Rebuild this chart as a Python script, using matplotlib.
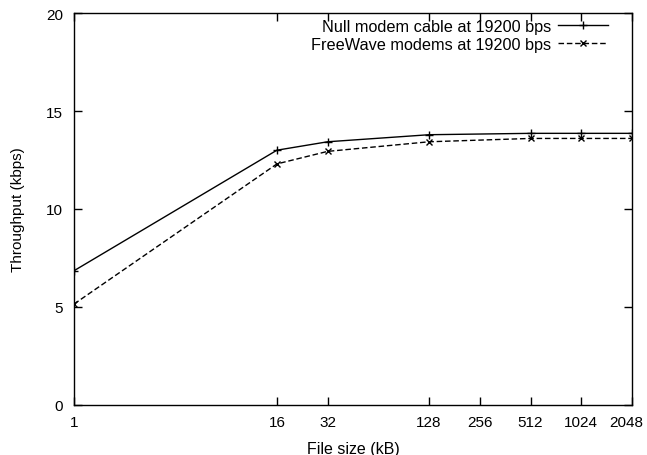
import matplotlib.pyplot as plt
import matplotlib.transforms as mtransforms
from matplotlib.ticker import FixedLocator, NullLocator

plt.rcParams['font.family'] = ['Liberation Sans', 'DejaVu Sans']

# File sizes (kB) and throughput (kbps)
file_size = [1, 16, 32, 128, 512, 1024, 2048]
null_modem = [6.85, 13.0, 13.43, 13.79, 13.86, 13.86, 13.86]
freewave = [5.15, 12.3, 12.94, 13.43, 13.6, 13.6, 13.6]
x_ticks = [1, 16, 32, 128, 256, 512, 1024, 2048]
y_ticks = [0, 5, 10, 15, 20]

fig = plt.figure(figsize=(6.47, 4.56), dpi=100)
ax = fig.add_axes([74/647, 1 - 406/456, (632-74)/647, (406-14)/456])

ax.plot(file_size, null_modem, color='black', lw=1, marker='+', ms=6, mew=1,
        label='Null modem cable at 19200 bps')
ax.plot(file_size, freewave, color='black', lw=1, ls=(0, (4, 2)), marker='x', ms=5, mew=1,
        label='FreeWave modems at 19200 bps')

ax.set_xscale('log', base=2)
ax.set_xlim(1, 2048)
ax.set_ylim(0, 20)
ax.xaxis.set_major_locator(FixedLocator(x_ticks))
ax.xaxis.set_minor_locator(NullLocator())
ax.set_xticklabels([str(t) for t in x_ticks])
ax.set_yticks(y_ticks)

ax.tick_params(direction='in', length=6, width=1, top=True, right=True, labelsize=11)
ax.tick_params(axis='x', pad=7.5)
ax.tick_params(axis='y', pad=8)
for s in ax.spines.values():
    s.set_linewidth(1)

# nudge the last x label so it stays inside the figure
last = ax.get_xticklabels()[-1]
last.set_transform(last.get_transform() + mtransforms.ScaledTranslation(-6/100, 0, fig.dpi_scale_trans))

ax.set_xlabel('File size (kB)', fontsize=11.5, labelpad=8)
ax.set_ylabel('Throughput (kbps)', fontsize=11, labelpad=15)

ax.legend(loc='upper right', bbox_to_anchor=(0.957, 0.985), markerfirst=False, frameon=False,
          fontsize=11.7, handlelength=3.1, labelspacing=0.18, borderpad=0, borderaxespad=0,
          handletextpad=0.4)

fig.savefig('out.png', dpi=100)
